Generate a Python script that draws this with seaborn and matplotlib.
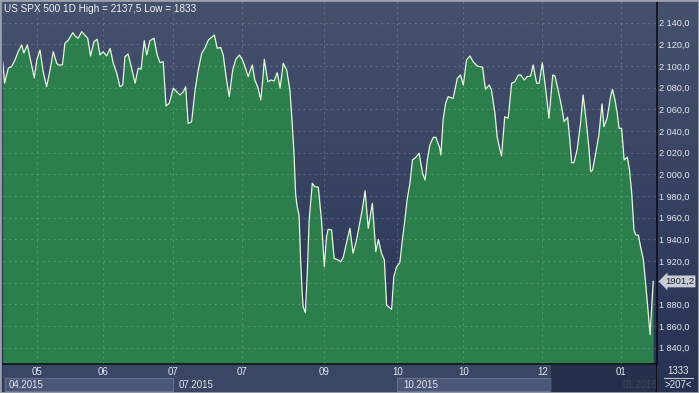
import numpy as np
import seaborn as sns
import matplotlib.pyplot as plt
import matplotlib.transforms as mtransforms
from matplotlib.patches import Rectangle

# Data: trading-session position and price
sessions = [0.0, 0.6, 1.0, 1.8, 2.8, 3.9, 4.9, 6.0, 6.7, 7.8, 8.9, 10.0, 10.8, 11.8, 12.8, 13.9,
            15.0, 16.0, 17.1, 17.6, 18.9, 19.7, 20.8, 22.2, 22.9, 23.9, 25.0, 26.4, 26.9, 27.8,
            28.9, 29.9, 30.8, 31.8, 32.9, 34.0, 35.0, 36.1, 37.1, 38.0, 38.7, 39.7, 40.8, 41.9,
            42.9, 43.8, 44.8, 45.6, 46.6, 47.9, 48.9, 49.8, 50.8, 51.7, 52.7, 54.0, 55.1, 56.1,
            57.2, 57.9, 58.7, 59.8, 60.9, 61.9, 63.0, 64.0, 65.1, 67.0, 67.9, 69.0, 69.8, 70.7,
            71.7, 72.8, 73.8, 74.9, 75.9, 76.7, 77.7, 79.0, 79.8, 80.7, 81.7, 82.3, 82.8, 83.9,
            84.9, 85.9, 86.9, 87.8, 88.8, 89.9, 90.9, 91.5, 92.2, 92.7, 93.2, 93.8, 94.3, 94.8,
            95.1, 95.8, 96.4, 97.0, 98.0, 98.8, 99.9, 100.9, 101.8, 102.5, 103.0, 104.1, 104.9,
            106.2, 107.0, 107.8, 108.9, 109.9, 110.9, 112.0, 112.8, 113.8, 114.7, 115.2, 115.7,
            116.5, 117.0, 117.6, 118.1, 118.9, 119.9, 120.8, 121.5, 122.3, 123.1, 123.8, 124.7,
            125.7, 126.5, 127.3, 128.0, 128.9, 129.7, 130.8, 131.8, 132.9, 133.7, 134.4, 135.2,
            136.3, 137.1, 138.2, 138.7, 139.4, 140.2, 141.0, 142.6, 143.9, 144.9, 145.8, 146.8,
            147.9, 148.9, 150.2, 151.9, 152.8, 154.0, 154.7, 155.8, 156.5, 157.4, 157.9, 158.9,
            160.0, 161.1, 162.1, 163.2, 164.0, 165.1, 166.0, 167.1, 167.9, 169.0, 169.8, 170.8,
            171.9, 172.9, 174.1, 174.8, 175.8, 176.9, 177.7, 178.8, 179.5, 180.1, 180.8, 181.8,
            182.9, 183.7, 184.6, 185.6, 186.1, 186.7, 187.7, 188.7, 189.7, 190.3, 191.3, 192.4,
            193.0, 193.8, 194.5, 195.1, 195.9, 196.7, 197.7, 198.4, 199.1, 199.8, 200.4, 201.2,
            201.9, 202.8, 203.6, 204.2, 204.9, 205.4, 205.9]

prices = [2104.0, 2084.3, 2089.0, 2098.2, 2099.4, 2105.6, 2113.2, 2119.4, 2112.0, 2119.4, 2104.0,
          2089.0, 2105.6, 2114.8, 2094.8, 2080.9, 2096.3, 2113.2, 2102.5, 2101.0, 2101.0, 2121.0,
          2124.0, 2130.8, 2127.7, 2125.6, 2131.7, 2127.1, 2125.6, 2109.3, 2122.5, 2124.7, 2110.2,
          2113.2, 2109.3, 2116.2, 2102.5, 2093.3, 2080.9, 2082.5, 2108.6, 2111.1, 2097.9, 2084.1,
          2097.9, 2097.0, 2123.4, 2110.2, 2123.4, 2125.6, 2110.2, 2103.1, 2104.0, 2063.1, 2065.6,
          2079.5, 2076.3, 2073.3, 2076.3, 2080.9, 2047.1, 2048.6, 2077.9, 2096.3, 2111.8, 2116.4,
          2124.0, 2128.6, 2116.4, 2117.1, 2110.2, 2090.2, 2071.7, 2096.3, 2106.2, 2110.2, 2105.6,
          2099.4, 2090.2, 2101.0, 2087.1, 2080.9, 2068.7, 2087.1, 2106.2, 2085.5, 2087.1, 2086.2,
          2093.8, 2079.5, 2102.5, 2096.3, 2077.9, 2053.2, 2019.5, 1982.5, 1970.2, 1962.5, 1921.0,
          1890.2, 1877.9, 1872.3, 1908.7, 1957.9, 1991.8, 1988.6, 1988.1, 1957.9, 1914.8, 1942.5,
          1949.3, 1948.7, 1922.5, 1921.0, 1919.4, 1923.5, 1937.9, 1950.2, 1927.2, 1939.4, 1951.7,
          1967.1, 1984.9, 1967.1, 1950.2, 1964.1, 1973.3, 1948.7, 1928.6, 1940.1, 1927.2, 1921.0,
          1879.4, 1877.3, 1875.5, 1905.6, 1914.8, 1918.5, 1939.4, 1957.9, 1976.4, 1991.8, 2013.3,
          2015.8, 2019.5, 2001.0, 1994.8, 2013.3, 2027.1, 2034.2, 2034.2, 2025.5, 2017.9, 2050.2,
          2065.6, 2071.7, 2070.2, 2088.7, 2091.7, 2082.5, 2105.6, 2109.3, 2104.0, 2100.0, 2098.8,
          2078.5, 2082.5, 2077.9, 2056.4, 2034.8, 2022.5, 2017.0, 2053.2, 2051.8, 2084.1, 2085.5,
          2091.7, 2091.7, 2087.1, 2090.2, 2090.8, 2101.0, 2084.1, 2084.1, 2103.1, 2077.9, 2051.8,
          2091.7, 2090.8, 2077.9, 2062.5, 2048.6, 2052.7, 2031.7, 2010.8, 2010.8, 2022.5, 2047.1,
          2073.3, 2051.8, 2022.5, 2002.5, 2004.0, 2019.5, 2036.3, 2065.0, 2044.0, 2051.8, 2071.7,
          2078.5, 2068.7, 2056.4, 2042.5, 2042.5, 2013.3, 2015.8, 2004.0, 1982.5, 1948.7, 1944.0,
          1944.0, 1933.2, 1921.0, 1896.3, 1876.4, 1852.0, 1876.4, 1901.2]

month_ticks = [10.8, 31.8, 54.0, 75.9, 101.8, 124.9, 145.8, 170.8, 195.7]
month_labels = ['05', '06', '07', '07', '09', '10', '10', '12', '01']
quarter_labels = ['04.2015', '07.2015', '10.2015', '01.2016']
quarter_starts = [0.0, 54.0, 124.9, 195.7]
price_ticks = list(range(1840, 2141, 20))

title = 'US SPX 500 1D High = 2137,5 Low = 1833'

plt.rcParams['font.family'] = ['Liberation Sans', 'DejaVu Sans']

W, H = 699, 393
fig = plt.figure(figsize=(W / 100, H / 100), dpi=100)

# background gradient
bg = fig.add_axes([0, 0, 1, 1], zorder=-10)
grad = np.linspace(0, 1, 256).reshape(-1, 1)
top_c = np.array([0x45, 0x52, 0x6e]) / 255
bot_c = np.array([0x27, 0x32, 0x53]) / 255
img = top_c + (bot_c - top_c) * grad[:, :, None]
bg.imshow(img, aspect='auto', extent=[0, 1, 0, 1])
bg.set_axis_off()

# main chart area
ax = fig.add_axes([2.7 / W, 29 / H, 654.3 / W, 363 / H])
ax.set_facecolor('none')
ax.fill_between(sessions, prices, 1800, color='#2c7e4c', lw=0, zorder=1)
sns.lineplot(x=sessions, y=prices, ax=ax, color='#e4f8dc', linewidth=0.9, zorder=3)
ax.set_xlim(0, 207.1)
ax.set_ylim(1825.0, 2160.0)
ax.set_xlabel('')
ax.set_ylabel('')

# the 1900 label sits under the last-price tag, as in the source
ax.set_yticks(price_ticks)
ax.set_yticklabels(['' if v == 1900 else f'{v // 1000} {v % 1000:03d},0' for v in price_ticks])
ax.yaxis.tick_right()
ax.set_xticks(month_ticks)
ax.set_xticklabels(month_labels)
ax.tick_params(axis='both', length=0, colors='#e2e7f0', labelsize=7)
ax.tick_params(axis='y', pad=1.8, labelsize=6.6)
ax.tick_params(axis='x', pad=2.5)
ax.grid(True, color='white', alpha=0.16, linestyle=(0, (2, 3)), linewidth=0.8, zorder=2)
ax.set_axisbelow(False)
for s in ['top', 'left']:
    ax.spines[s].set_visible(False)
ax.spines['right'].set_color('#0c0f18')
ax.spines['bottom'].set_color('#0c0f18')
ax.spines['right'].set_linewidth(1.2)
ax.spines['bottom'].set_linewidth(1.2)

# bottom band with quarter boxes
band = fig.add_axes([2.7 / W, 0, 654.3 / W, 29 / H], zorder=-5)
band.set_xlim(0, 207.1)
band.set_ylim(0, 29)
band.set_axis_off()
band.add_patch(Rectangle((0, 0), 207.1, 29, color='#394664', zorder=0))
band.add_patch(Rectangle((0.6, 2), quarter_starts[1] - 0.6, 13, fc='#4a5777', ec='#65728f', lw=0.8, zorder=1))
band.add_patch(Rectangle((quarter_starts[2], 2), 173.6 - quarter_starts[2], 13, fc='#4a5777', ec='#65728f', lw=0.8, zorder=1))
for lab, x0 in zip(quarter_labels[:3], quarter_starts[:3]):
    band.text(x0 + 1.8, 8.5, lab, color='#e2e7f0', fontsize=7, va='center', ha='left', zorder=2)
band.text(quarter_starts[3] + 0.6, 8.5, quarter_labels[3], color='#6f7a92', fontsize=7, va='center', ha='left', zorder=2)
band.add_patch(Rectangle((173.6, 0), 207.1 - 173.6, 29, fc='#1c2540', alpha=0.65, lw=0, zorder=3))
band.axvline(207.1, color='#0c0f18', lw=1.5, zorder=4)

# bottom-right info box
fig.text(678 / W, 1 - 371 / H, '1333', color='#e2e7f0', fontsize=7, ha='center', va='center')
fig.add_artist(plt.Line2D([664 / W, 693 / W], [1 - 378 / H, 1 - 378 / H], color='#c0c6d2', lw=0.8))
fig.text(678 / W, 1 - 385 / H, '>207<', color='#e2e7f0', fontsize=7, ha='center', va='center')

# last price tag
trans = mtransforms.blended_transform_factory(ax.transAxes, ax.transData)
ax.text(1.012, prices[-1], f'{prices[-1]:.1f}'.replace('.', ','), transform=trans,
        fontsize=6.8, color='#1c2232', va='center', ha='left', zorder=6,
        bbox=dict(boxstyle='larrow,pad=0.15', fc='#c8ccd5', ec='none'), clip_on=False)

fig.text(4 / W, 1 - 8.5 / H, title, color='#f2f4f8', fontsize=7.2, va='center', ha='left')

fig.patches.append(Rectangle((0, 0), 1, 1, transform=fig.transFigure, fill=False,
                             ec='#9aa1ad', lw=2))

fig.savefig('out.png', dpi=100)
